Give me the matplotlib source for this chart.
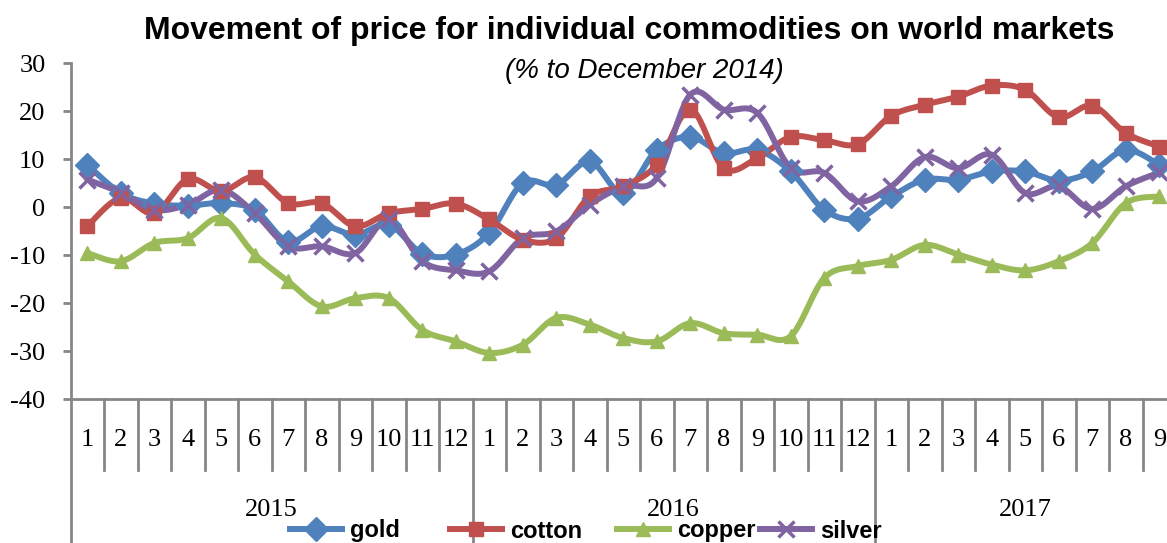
import numpy as np
import matplotlib
matplotlib.use('Agg')
import matplotlib.pyplot as plt
from matplotlib.lines import Line2D

years = ['2015', '2016', '2017']
months_per_year = [12, 12, 9]
month_labels = [str(m) for n in months_per_year for m in range(1, n + 1)]

gold = [8.8, 2.9, 0.7, 0.3, 0.8, -0.6, -7.2, -4.0, -5.8, -3.7, -9.7, -9.9,
        -5.4, 5.0, 4.6, 9.5, 2.9, 11.9, 14.6, 11.2, 11.9, 7.4, -0.6, -2.4,
        2.2, 5.7, 5.7, 7.4, 7.4, 5.5, 7.4, 11.9, 8.8]
cotton = [-4.0, 1.9, -1.3, 5.8, 3.3, 6.2, 0.8, 0.8, -4.0, -1.3, -0.4, 0.7,
          -2.6, -6.8, -6.5, 2.2, 4.3, 8.8, 20.3, 8.1, 10.2, 14.6, 13.9, 13.1,
          19.0, 21.3, 23.0, 25.3, 24.4, 18.7, 21.1, 15.4, 12.6]
copper = [-9.6, -11.3, -7.5, -6.5, -2.3, -9.9, -15.5, -20.7, -19.0, -19.0, -25.6, -28.0,
          -30.4, -28.7, -23.1, -24.5, -27.3, -28.0, -24.2, -26.3, -26.6, -26.9, -14.8, -12.3,
          -11.0, -7.9, -9.9, -12.0, -13.2, -11.3, -7.5, 0.8, 2.2]
silver = [5.7, 3.0, -0.6, 0.5, 3.6, -1.3, -8.2, -8.2, -9.6, -2.6, -11.3, -13.2,
          -13.4, -6.5, -5.1, 0.5, 4.3, 6.0, 23.4, 20.3, 19.6, 8.1, 7.1, 1.2,
          4.3, 10.4, 8.1, 10.9, 2.9, 4.3, -0.4, 4.3, 7.2]

series = [
    ('gold', gold, '#4F81BD', 'D', 12),
    ('cotton', cotton, '#C0504D', 's', 10),
    ('copper', copper, '#9BBB59', '^', 10),
    ('silver', silver, '#8064A2', 'x', 11),
]
# left edge of each legend entry (pixels)
legend_x = [290, 450, 617, 760]


def smooth(y, n=24):
    # excel-like smoothed line: cubic bezier through the points
    y = np.asarray(y, float)
    x = np.arange(len(y), dtype=float)
    pts = np.column_stack([x, y])
    out = []
    for i in range(len(pts) - 1):
        p0 = pts[i]
        p3 = pts[i + 1]
        pm = pts[i - 1] if i > 0 else pts[i]
        pp = pts[i + 2] if i + 2 < len(pts) else pts[i + 1]
        c1 = p0 + (p3 - pm) / 6
        c2 = p3 - (pp - p0) / 6
        t = np.linspace(0, 1, n)[:, None]
        seg = ((1 - t) ** 3) * p0 + 3 * ((1 - t) ** 2) * t * c1 + 3 * (1 - t) * t ** 2 * c2 + t ** 3 * p3
        out.append(seg if i == 0 else seg[1:])
    out = np.vstack(out)
    return out[:, 0], out[:, 1]


W, H = 1167, 543
fig = plt.figure(figsize=(W / 100, H / 100), dpi=100)
left, top, bottom = 70.5, 63, 399
ncat = len(month_labels)
catw = 33.5
right = left + ncat * catw
ax = fig.add_axes([left / W, 1 - bottom / H, (right - left) / W, (bottom - top) / H])

x = np.arange(ncat)
for name, vals, col, mk, ms in series:
    sx, sy = smooth(vals)
    ax.plot(sx, sy, color=col, lw=4.3, solid_capstyle='round', zorder=3)
    ax.plot(x, vals, ls='none', marker=mk, color=col, ms=ms,
            mew=2.5 if mk == 'x' else 1, zorder=4)

ax.set_xlim(-0.5, ncat - 0.5)
ax.set_ylim(-40, 30)
ax.set_yticks(range(-40, 31, 10))
ax.set_yticklabels([str(v) for v in range(-40, 31, 10)],
                   fontfamily='Liberation Serif', fontsize=19)
ax.tick_params(axis='y', length=6, width=2, color='#868686', pad=12)
ax.set_xticks([])
for s in ['top', 'right']:
    ax.spines[s].set_visible(False)
for s in ['left', 'bottom']:
    ax.spines[s].set_color('#868686')
    ax.spines[s].set_linewidth(2)

tr = ax.get_xaxis_transform()
axh = bottom - top
short = -(470 - bottom) / axh
long_ = -(H - bottom + 5) / axh
lab_y = -(440 - bottom) / axh
year_y = -(510 - bottom) / axh

# category separators
bounds = np.cumsum([0] + months_per_year)
for b in range(1, ncat):
    lo = long_ if b in bounds else short
    ax.plot([b - 0.5, b - 0.5], [0, lo], transform=tr, color='#868686',
            lw=2, clip_on=False)
ax.plot([-0.5, -0.5], [0, long_], transform=tr, color='#868686', lw=2, clip_on=False)

for i, lab in enumerate(month_labels):
    ax.text(i, lab_y, lab, transform=tr, ha='center', va='center',
            fontfamily='Liberation Serif', fontsize=19)
for k, yr in enumerate(years):
    mid = (bounds[k] + bounds[k + 1]) / 2 - 0.5
    ax.text(mid, year_y, yr, transform=tr, ha='center', va='center',
            fontfamily='Liberation Serif', fontsize=19)

fig.text(629 / W, 1 - 31 / H, 'Movement of price for individual commodities on world markets',
         ha='center', va='center', fontfamily='Liberation Sans', fontsize=23, fontweight='bold')
fig.text(644 / W, 1 - 71 / H, '(% to December 2014)', ha='center', va='center',
         fontfamily='Liberation Sans', fontsize=20, style='italic')

for (name, _, c, m, ms), lx in zip(series, legend_x):
    h = Line2D([], [], color=c, lw=4.3, marker=m, ms=ms, mew=2.5 if m == 'x' else 1)
    fig.legend([h], [name], loc='center left', bbox_to_anchor=(lx / W, 1 - 531 / H),
               frameon=False, borderpad=0, borderaxespad=0,
               prop={'family': 'Liberation Sans', 'weight': 'bold', 'size': 17},
               handlelength=2.2, handletextpad=0.35)

fig.savefig('out.png', dpi=100)
